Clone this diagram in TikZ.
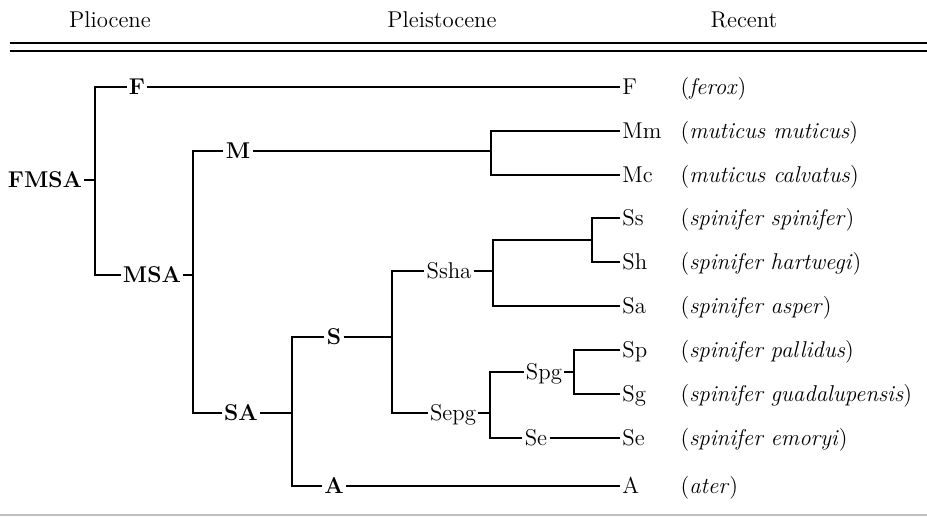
\documentclass[tikz,border=0pt]{standalone}
\begin{document}
\begin{tikzpicture}
[x=0.02cm, y=-0.02cm, font=\fontsize{13}{15}\selectfont, line width=0.7pt,
rule/.style={line width=0.8pt},
anc/.style={inner sep=1pt, text height=8.9pt, text depth=0pt, font=\fontsize{13}{15}\selectfont\bfseries},
lab/.style={inner sep=1pt, text height=8.9pt, text depth=0pt},
tip/.style={inner sep=1pt, text height=8.9pt, text depth=0pt, anchor=west},
latin/.style={inner sep=0pt, anchor=base west}]

\useasboundingbox (0,0) rectangle (927,517);

\node (plio) at (110,20) {Pliocene};
\node (pleis) at (442,20) {Pleistocene};
\node (rec) at (744,20) {Recent};
\draw[rule, line width=0.6pt] (10,43) -- (927,43);
\draw[rule] (10,51) -- (927,51);
\draw[rule, line width=0.6pt, draw=gray!50] (0,515) -- (927,515);

\node[anc] (FMSA) at (45,180) {FMSA};
\node[anc] (F0) at (137,87) {F};
\node[anc] (MSA) at (152,275) {MSA};
\node[anc] (M) at (238,151) {M};
\node[anc] (SA) at (241,413) {SA};
\node[anc] (S) at (334,337) {S};
\node[anc] (A0) at (334,486) {A};
\node[lab] (Ssha) at (449,271) {Ssha};
\node[lab] (Sepg) at (453,413) {Sepg};
\node[lab] (Spg) at (544,372) {Spg};
\node[lab] (Se0) at (536,438) {Se};

\node[tip] (F) at (620,87) {F};
\node[tip] (Mm) at (620,131) {Mm};
\node[tip] (Mc) at (620,175) {Mc};
\node[tip] (Ss) at (620,218) {Ss};
\node[tip] (Sh) at (620,262) {Sh};
\node[tip] (Sa) at (620,306) {Sa};
\node[tip] (Sp) at (620,350) {Sp};
\node[tip] (Sg) at (620,394) {Sg};
\node[tip] (Se) at (620,438) {Se};
\node[tip] (A) at (620,486) {A};

\foreach \t/\n in {F/ferox, Mm/muticus muticus, Mc/muticus calvatus,
  Ss/spinifer spinifer, Sh/spinifer hartwegi, Sa/spinifer asper,
  Sp/spinifer pallidus, Sg/spinifer guadalupensis, Se/spinifer emoryi, A/ater} {
  \node[latin] (n\t) at (680,0 |- \t.base) {(\textit{\n\/})};
}

\coordinate (b0) at (95,180);
\coordinate (b1) at (193,275);
\coordinate (b2) at (292,413);
\coordinate (b3) at (392,337);
\coordinate (b4) at (493,271);
\coordinate (b5) at (592,240);
\coordinate (b6) at (491,151);
\coordinate (b7) at (490,413);
\coordinate (b8) at (574,372);

\draw (FMSA.east) -- (b0);
\draw (F0.west) -| (b0) |- (MSA.west);
\draw (MSA.east) -- (b1);
\draw (M.west) -| (b1) |- (SA.west);
\draw (SA.east) -- (b2);
\draw (S.west) -| (b2) |- (A0.west);
\draw (S.east) -- (b3);
\draw (Ssha.west) -| (b3) |- (Sepg.west);
\draw (Ssha.east) -- (b4);
\draw (b5) -| (b4) |- (Sa.west);
\draw (Ss.west) -| (b5) |- (Sh.west);
\draw (M.east) -- (b6);
\draw (Mm.west) -| (b6) |- (Mc.west);
\draw (Sepg.east) -- (b7);
\draw (Spg.west) -| (b7) |- (Se0.west);
\draw (Spg.east) -- (b8);
\draw (Sp.west) -| (b8) |- (Sg.west);
\draw (F0) -- (F);
\draw (Se0) -- (Se);
\draw (A0) -- (A);

\end{tikzpicture}
\end{document}
